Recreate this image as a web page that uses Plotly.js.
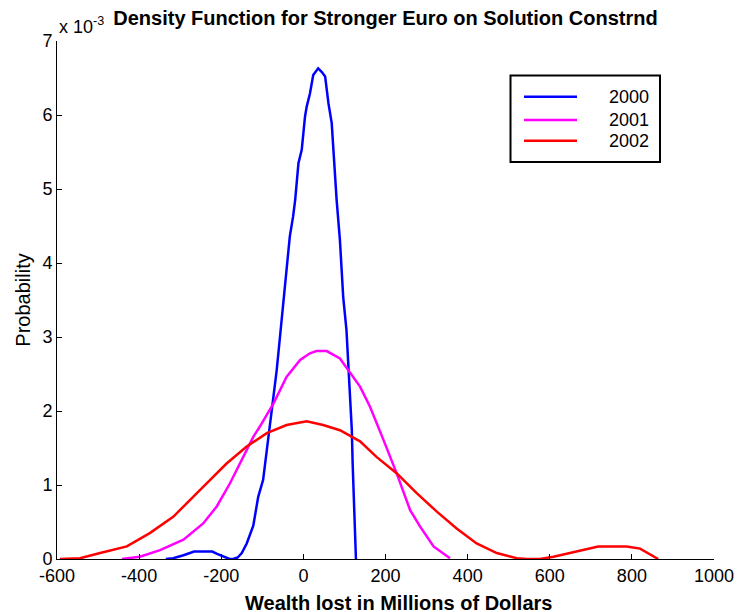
<!DOCTYPE html>
<html>
<head>
<meta charset="utf-8">
<script src="https://cdn.plot.ly/plotly-3.0.1.min.js"></script>
<style>
  html, body { margin: 0; padding: 0; background: #fff; }
  #chart { width: 737px; height: 612px; }
</style>
</head>
<body>
<div id="chart"></div>
<script>
// Values; y in units of 1e-3 (axis shows "x 10^-3")
const x2000 = [-335, -317, -292, -266, -245, -222, -210, -195, -180, -171, -160, -150, -138, -122, -110, -98, -85, -73, -65, -57, -49, -41, -33, -25, -20, -12, -4, 4, 8, 16, 24, 36, 45, 53, 61, 69, 77, 81, 89, 97, 105, 109, 113, 118, 120, 123, 126, 128];
const y2000 = [0, 0.01, 0.05, 0.10, 0.10, 0.10, 0.07, 0.03, 0.0, 0, 0.02, 0.08, 0.21, 0.45, 0.84, 1.07, 1.65, 2.15, 2.55, 3.0, 3.45, 4.0, 4.36, 4.63, 4.85, 5.35, 5.53, 5.98, 6.11, 6.29, 6.54, 6.63, 6.58, 6.52, 6.16, 5.89, 5.17, 4.85, 4.31, 3.54, 3.09, 2.64, 2.19, 1.74, 1.29, 0.84, 0.39, 0];

const x2001 = [-442, -398, -349, -292, -244, -211, -179, -146, -122, -106, -73, -41, -8, 16, 32, 57, 89, 138, 162, 195, 227, 260, 284, 317, 345, 357];
const y2001 = [0, 0.03, 0.12, 0.26, 0.48, 0.71, 1.02, 1.38, 1.65, 1.79, 2.10, 2.46, 2.69, 2.78, 2.81, 2.81, 2.71, 2.33, 2.06, 1.61, 1.16, 0.66, 0.44, 0.17, 0.05, 0.01];

const x2002 = [-593, -544, -495, -430, -374, -317, -252, -187, -138, -89, -41, 8, 48, 89, 138, 178, 227, 276, 325, 374, 422, 471, 520, 544, 576, 609, 657, 718, 787, 820, 864];
const y2002 = [0, 0.01, 0.08, 0.17, 0.35, 0.57, 0.93, 1.29, 1.52, 1.70, 1.81, 1.86, 1.81, 1.74, 1.59, 1.38, 1.16, 0.89, 0.64, 0.41, 0.21, 0.08, 0.01, 0, 0, 0.03, 0.09, 0.17, 0.17, 0.14, 0];

const seriesNames = ['2000', '2001', '2002'];
const seriesColors = ['#0000ff', '#ff00ff', '#ff0000'];
const xTicks = [-600, -400, -200, 0, 200, 400, 600, 800, 1000];
const yTicks = [0, 1, 2, 3, 4, 5, 6, 7];

const FONT = 'Liberation Sans, Arial, Helvetica, sans-serif';
const xs = [x2000, x2001, x2002];
const ys = [y2000, y2001, y2002];

const traces = xs.map((xv, i) => ({
  x: xv, y: ys[i], type: 'scatter', mode: 'lines',
  name: seriesNames[i],
  line: { color: seriesColors[i], width: 2.5 }
}));

const layout = {
  width: 737, height: 612,
  margin: { l: 57, r: 23, t: 41, b: 53, pad: 0 },
  paper_bgcolor: '#fff', plot_bgcolor: '#fff',
  font: { family: FONT, size: 18, color: '#000' },
  showlegend: false,
  title: {
    text: '<b>Density Function for Stronger Euro on Solution Constrnd</b>',
    font: { family: FONT, size: 20, color: '#000' },
    x: 0.5, xanchor: 'center', xref: 'paper',
    y: 1 - 18 / 612, yref: 'container', yanchor: 'middle'
  },
  xaxis: {
    range: [-600, 1000], tickvals: xTicks, ticktext: xTicks.map(String),
    ticks: 'inside', ticklen: 5, tickcolor: '#000', tickwidth: 1,
    showline: true, linecolor: '#000', linewidth: 1, mirror: false,
    showgrid: false, zeroline: false,
    tickfont: { family: FONT, size: 18, color: '#000' }
  },
  yaxis: {
    range: [0, 7], tickvals: yTicks, ticktext: yTicks.map(String),
    ticks: 'inside', ticklen: 5, tickcolor: '#000', tickwidth: 1,
    showline: true, linecolor: '#000', linewidth: 1, mirror: false,
    showgrid: false, zeroline: false,
    tickfont: { family: FONT, size: 18, color: '#000' },
    title: { text: 'Probability', font: { family: FONT, size: 20, color: '#000' }, standoff: 6 }
  },
  annotations: [
    { xref: 'paper', yref: 'paper', x: 0, y: 1, xanchor: 'left', yanchor: 'bottom', yshift: 2,
      text: 'x 10<sup>-3</sup>', showarrow: false, font: { family: FONT, size: 18, color: '#000' } },
    { xref: 'paper', yref: 'paper', x: (398 - 57) / 657, y: 0, xanchor: 'center', yanchor: 'middle', yshift: -44,
      text: '<b>Wealth lost in Millions of Dollars</b>', showarrow: false, font: { family: FONT, size: 20, color: '#000' } }
  ],
  shapes: [
    { type: 'rect', xref: 'paper', yref: 'paper', x0: (510.5 - 57) / 657, x1: (660 - 57) / 657,
      y0: (559 - 162) / 518, y1: (559 - 75.5) / 518, line: { color: '#000', width: 2 }, fillcolor: 'rgba(0,0,0,0)' }
  ]
};

// Legend drawn with shapes + annotations inside the box
const legendRowsY = [96.7, 120, 140.7];
seriesNames.forEach((n, i) => {
  const yp = (559 - legendRowsY[i]) / 518;
  layout.shapes.push({ type: 'line', xref: 'paper', yref: 'paper',
    x0: (524 - 57) / 657, x1: (577 - 57) / 657, y0: yp, y1: yp,
    line: { color: seriesColors[i], width: 2.5 } });
  layout.annotations.push({ xref: 'paper', yref: 'paper', x: (651 - 57) / 657, y: yp,
    xanchor: 'right', yanchor: 'middle', text: n, showarrow: false,
    font: { family: FONT, size: 18, color: '#000' } });
});

Plotly.newPlot('chart', traces, layout, { displayModeBar: false, staticPlot: true });
</script>
</body>
</html>
